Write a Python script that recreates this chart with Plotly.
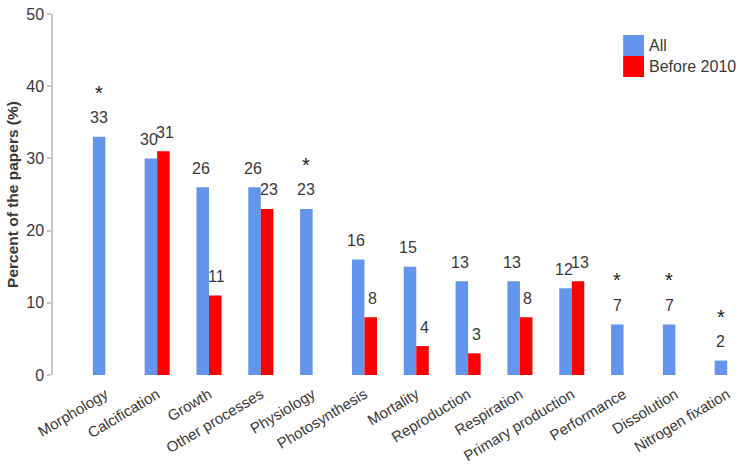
import plotly.graph_objects as go

categories = ["Morphology", "Calcification", "Growth", "Other processes", "Physiology",
              "Photosynthesis", "Mortality", "Reproduction", "Respiration",
              "Primary production", "Performance", "Dissolution", "Nitrogen fixation"]
all_vals = [33, 30, 26, 26, 23, 16, 15, 13, 13, 12, 7, 7, 2]
before_2010 = [None, 31, 11, 23, None, 8, 4, 3, 8, 13, None, None, None]
significant = [True, False, False, False, True, False, False, False, False, False, True, True, True]

BLUE = "#6495ED"
RED = "#FF0000"
FONT = "Liberation Sans, Arial, sans-serif"
TXT = "#3a3a3a"

fig = go.Figure()
fig.add_trace(go.Bar(x=categories, y=all_vals, name="All", marker=dict(color=BLUE, line=dict(width=0)), showlegend=False))
fig.add_trace(go.Bar(x=categories, y=before_2010, name="Before 2010", marker=dict(color=RED, line=dict(width=0)), showlegend=False))

ann = []
for i, c in enumerate(categories):
    a = all_vals[i]
    b = before_2010[i]
    pair = b is not None
    ann.append(dict(x=i, y=a, xref="x", yref="y", text=str(a), showarrow=False,
                    xshift=-8 if pair else -6.3, yshift=19, yanchor="middle",
                    font=dict(size=16, color=TXT, family=FONT)))
    if pair:
        ann.append(dict(x=i, y=b, xref="x", yref="y", text=str(b), showarrow=False,
                        xshift=8, yshift=19, yanchor="middle",
                        font=dict(size=16, color=TXT, family=FONT)))
    if significant[i]:
        ann.append(dict(x=i, y=a, xref="x", yref="y", text="*", showarrow=False,
                        xshift=-6.3, yshift=44, yanchor="middle",
                        font=dict(size=20, color="#222", family=FONT)))

# legend drawn manually
shapes = [
    dict(type="rect", xref="paper", yref="paper", x0=0.836, x1=0.8666, y0=0.8837, y1=0.9418,
         fillcolor=BLUE, line=dict(width=0)),
    dict(type="rect", xref="paper", yref="paper", x0=0.836, x1=0.8666, y0=0.8255, y1=0.8837,
         fillcolor=RED, line=dict(width=0)),
]
ann.append(dict(x=0.871, y=0.912, xref="paper", yref="paper", text="All", showarrow=False,
                xanchor="left", yanchor="middle", font=dict(size=16, color=TXT, family=FONT)))
ann.append(dict(x=0.871, y=0.854, xref="paper", yref="paper", text="Before 2010", showarrow=False,
                xanchor="left", yanchor="middle", font=dict(size=16, color=TXT, family=FONT)))

fig.update_layout(
    width=740, height=469,
    margin=dict(l=53, r=5, t=14, b=94),
    paper_bgcolor="white", plot_bgcolor="white",
    barmode="group", bargap=0.517, bargroupgap=0,
    annotations=ann, shapes=shapes,
    font=dict(family=FONT, color=TXT),
    xaxis=dict(range=[-1.01, 12.15], tickangle=-31, showline=False, showgrid=False,
               ticks="", ticklabelstandoff=7, automargin=False,
               tickfont=dict(size=15, color=TXT, family=FONT), zeroline=False),
    yaxis=dict(range=[0, 50], tickvals=[0, 10, 20, 30, 40, 50], showgrid=False, zeroline=False,
               showline=True, linecolor="#c8c8c8", linewidth=1.5, automargin=False,
               ticks="outside", ticklen=4, tickcolor="#c8c8c8", tickwidth=1.5,
               tickfont=dict(size=16, color=TXT, family=FONT),
               title=dict(text="<b>Percent of the papers (%)</b>", font=dict(size=15.5, color=TXT, family=FONT), standoff=4)),
)

fig.write_html("out.html")
